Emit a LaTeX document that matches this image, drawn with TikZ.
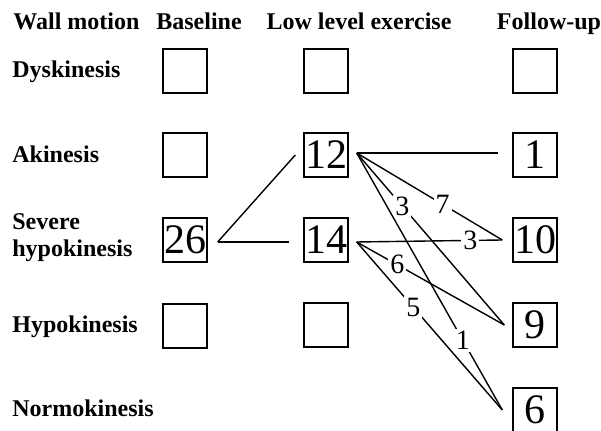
\documentclass[tikz,border=0pt]{standalone}
\usepackage{fontspec}
\setmainfont{Liberation Serif}
\begin{document}
\begin{tikzpicture}[x=0.5pt, y=-0.5pt,
    head/.style={font=\fontsize{12}{13.5}\selectfont\bfseries, anchor=base, inner sep=0pt},
    rowlab/.style={font=\fontsize{12}{13.5}\selectfont\bfseries, anchor=base west, inner sep=0pt, align=left},
    cell/.style={draw, line width=0.7pt, minimum width=22pt, minimum height=22pt, inner sep=0pt,
        font=\fontsize{21}{21}\selectfont},
    link/.style={line width=0.7pt},
    count/.style={fill=white, inner sep=1pt, font=\fontsize{14}{14}\selectfont}]
    \useasboundingbox (0,0) rectangle (601,431);
    \clip (0,0) rectangle (601,431);

    % Encabezados
    \node[head, anchor=base west] (hwall) at (13,30) {Wall motion};
    \node[head] (hbase) at (199,30) {Baseline};
    \node[head] (hlow) at (359,30) {Low level exercise};
    \node[head] (hfol) at (549,30) {Follow-up};

    % Filas
    \foreach \y/\name/\txt in {78/dys/Dyskinesis, 163/aki/Akinesis, 333/hyp/Hypokinesis, 417/nor/Normokinesis} {
        \node[rowlab] (r\name) at (12,\y) {\txt};
    }
    \node[rowlab] (rsev) at (12,257) {Severe\\hypokinesis};

    % Casillas
    \foreach \name/\x/\y/\val in {
        bd/185/71/{}, ba/185/155/{}, bs/185/240/26, bh/185/326/{},
        ld/326/71/{}, la/326/155/12, ls/326/240/14, lh/326/325/{},
        fd/535/71/{}, fa/535/155/1, fs/535/240/10, fh/535/325/9, fn/535/410/6
    } {
        \node[cell] (\name) at (\x,\y) {\val};
    }

    % Puntos de salida y llegada
    \coordinate (o26) at ([xshift=5pt, yshift=-1pt]bs.east);
    \coordinate (i12) at ([xshift=-4pt]la.west);
    \coordinate (i14) at ([xshift=-7pt, yshift=-1pt]ls.west);
    \coordinate (o12) at ([xshift=4pt, yshift=1pt]la.east);
    \coordinate (o14) at ([xshift=4pt, yshift=-1pt]ls.east);
    \coordinate (i1) at ([xshift=-7pt, yshift=1pt]fa.west);
    \coordinate (i10) at ([xshift=-5pt]fs.west);
    \coordinate (i9) at ([xshift=-4pt]fh.west);
    \coordinate (i6) at ([xshift=-5pt]fn.west);

    % Transiciones
    \draw[link] (o26) -- (i12);
    \draw[link] (o26) -- (i14);
    \draw[link] (o12) -- (i1);
    \draw[link] (o12) -- node[count, pos=.59] (c7) {7} (i10);
    \draw[link] (o12) -- node[count, pos=.31] (c3a) {3} (i9);
    \draw[link] (o12) -- node[count, pos=.73] (c1) {1} (i6);
    \draw[link] (o14) -- node[count, pos=.78] (c3b) {3} (i10);
    \draw[link] (o14) -- node[count, pos=.275] (c6) {6} (i9);
    \draw[link] (o14) -- node[count, pos=.39] (c5) {5} (i6);
\end{tikzpicture}
\end{document}
